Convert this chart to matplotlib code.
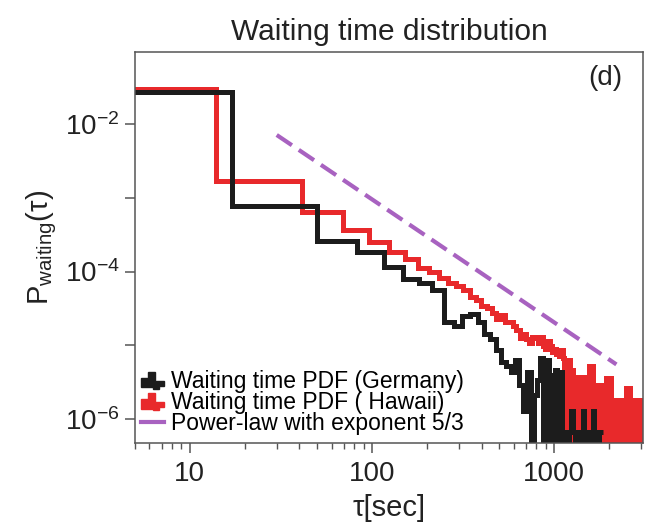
import numpy as np
import matplotlib
matplotlib.use("Agg")
import matplotlib.pyplot as plt
import matplotlib.patches as mpatches
from matplotlib.lines import Line2D
from matplotlib.legend_handler import HandlerPatch
from matplotlib.ticker import LogLocator, FuncFormatter, NullLocator

plt.rcParams['font.family'] = ['Liberation Sans', 'DejaVu Sans']
plt.rcParams['mathtext.fontset'] = 'custom'
plt.rcParams['mathtext.rm'] = 'Liberation Sans'
plt.rcParams['mathtext.it'] = 'Liberation Sans:italic'
plt.rcParams['mathtext.default'] = 'regular'

# histogram bins (linear bins, seconds); first bin is the one left of the plot
red_first_edge, red_start, red_width, red_nbins = 1.0, 14.0, 27.5, 110
black_first_edge, black_start, black_width, black_nbins = 1.0, 17.0, 33.0, 56

# Hawaii PDF, one value per bin (0 = empty bin)
red_values = [3.0e-2, 1.69e-3, 6.4e-4, 3.66e-4, 2.5e-4, 1.84e-4, 1.48e-4, 1.11e-4,
              9.8e-5, 8.1e-5, 7.0e-5, 6.3e-5, 5.6e-5, 4.5e-5, 4.1e-5, 3.4e-5,
              3.2e-5, 2.7e-5, 2.3e-5, 2.6e-5, 2.1e-5, 2.1e-5, 1.8e-5, 1.6e-5,
              1.25e-5, 1.4e-5, 1.2e-5, 1.07e-5, 1.3e-5, 1.25e-5, 1.07e-5, 1.3e-5,
              9.7e-6, 8.9e-6, 1.15e-5, 9.7e-6, 8.1e-6, 9.0e-6, 7.6e-6, 7.2e-6, 8.5e-6,
              6.7e-6, 0, 5.9e-6, 6.3e-6, 0, 4.6e-6, 3.7e-6, 0, 3.7e-6, 0,
              3.4e-6, 3.7e-6, 0, 2.9e-6, 0, 3.7e-6, 5.2e-6, 0, 5.2e-6, 2.9e-6,
              0, 2.6e-6, 0, 2.9e-6, 0, 2.9e-6, 0, 2.5e-6, 2.9e-6, 0,
              3.6e-6, 0, 3.4e-6, 3.6e-6, 0, 1.8e-6, 0, 1.8e-6, 0, 1.8e-6,
              1.8e-6, 0, 1.8e-6, 0, 1.8e-6, 0, 1.8e-6, 0, 1.8e-6, 0,
              2.6e-6, 2.6e-6, 0, 2.6e-6, 1.8e-6, 0, 1.8e-6, 0, 1.8e-6, 1.8e-6,
              0, 1.8e-6, 0, 1.8e-6, 0, 1.8e-6, 1.8e-6, 0, 1.8e-6, 1.8e-6]

# Germany PDF
black_values = [2.7e-2, 7.7e-4, 2.6e-4, 1.84e-4, 1.15e-4, 7.8e-5, 6.9e-5, 5.6e-5,
                2.1e-5, 1.8e-5, 2.5e-5, 2.65e-5, 2.1e-5, 1.4e-5, 1.2e-5, 8.6e-6,
                5.9e-6, 5.2e-6, 4.3e-6, 6.3e-6, 2.9e-6, 1.3e-6, 4.3e-6, 0,
                2.1e-6, 3.4e-6, 6.7e-6, 0, 6.3e-6, 0, 3.9e-6, 4.6e-6, 0, 4.3e-6, 0,
                6.7e-7, 0, 6.7e-7, 1.3e-6, 6.7e-7, 0, 6.7e-7, 6.7e-7, 0, 1.3e-6,
                6.7e-7, 0, 6.7e-7, 6.7e-7, 0, 1.3e-6, 6.7e-7, 6.7e-7, 0, 6.7e-7,
                6.7e-7, 6.7e-7]

# reference power law, exponent 5/3
power_x = [30, 2200]
power_y = [7.1e-3, 5.5e-6]

labels = ["Waiting time PDF (Germany)", "Waiting time PDF ( Hawaii)",
          "Power-law with exponent 5/3"]

red_edges = np.r_[red_first_edge, red_start + red_width * np.arange(red_nbins + 1)]
black_edges = np.r_[black_first_edge, black_start + black_width * np.arange(black_nbins + 1)]

RED = '#e8292b'
BLACK = '#1c1c1c'
PURPLE = '#a862c0'


def stair_patch(legend, orig_handle, xdescent, ydescent, width, height, fontsize):
    fx = np.array([0, 0, .3, .3, .62, .62, 1, 1, .78, .78, .5, .5])
    fy = np.array([0, .6, .6, 1, 1, .4, .4, .1, .1, -.1, -.1, 0])
    xy = np.c_[-xdescent + width * fx, -ydescent + height * fy]
    return mpatches.Polygon(xy, closed=True)


def main():
    fig = plt.figure(figsize=(6.54, 5.22), dpi=100)
    ax = fig.add_axes([135 / 654, 79 / 522, 508 / 654, 391 / 522])

    tiny = 1e-12
    rv = np.where(np.array(red_values) > 0, red_values, tiny)
    bv = np.where(np.array(black_values) > 0, black_values, tiny)
    ax.stairs(rv, red_edges, baseline=None, color=RED, lw=3.6)
    ax.stairs(bv, black_edges, baseline=None, color=BLACK, lw=3.6)
    ax.plot(power_x, power_y, color=PURPLE, lw=3, ls=(0, (4.4, 2.0)))

    ax.set_xscale('log')
    ax.set_yscale('log')
    ax.set_xlim(5, 3080)
    ax.set_ylim(4.73e-7, 0.0947)

    ax.xaxis.set_major_locator(LogLocator(base=10))
    ax.xaxis.set_minor_locator(LogLocator(base=10, subs=np.arange(2, 10)))
    ax.xaxis.set_major_formatter(FuncFormatter(lambda v, p: '%d' % round(v)))
    ax.xaxis.set_minor_formatter(FuncFormatter(lambda v, p: ''))

    def yfmt(v, p):
        e = int(round(np.log10(v)))
        return r'$10^{%d}$' % e if e % 2 == 0 else ''
    ax.yaxis.set_major_locator(LogLocator(base=10, numticks=20))
    ax.yaxis.set_major_formatter(FuncFormatter(yfmt))
    ax.yaxis.set_minor_locator(NullLocator())

    for s in ax.spines.values():
        s.set_color('#555555')
        s.set_linewidth(1.1)
    ax.tick_params(which='major', direction='out', length=7, width=1.1,
                   color='#555555', labelsize=20, labelcolor='#222222', pad=4)
    ax.tick_params(axis='x', which='major', pad=6)
    ax.tick_params(which='minor', direction='out', length=4, width=1.0, color='#555555')

    ax.set_title("Waiting time distribution", fontsize=21.5, pad=9, color='#222222')
    ax.set_xlabel("τ[sec]", fontsize=21, labelpad=5, color='#222222')
    ax.set_ylabel(r"P$_{\mathregular{waiting}}$(τ)", fontsize=21, labelpad=4, color='#222222')
    ax.text(0.925, 0.934, "(d)", transform=ax.transAxes, fontsize=20,
            ha='center', va='center', color='#222222')

    handles = [mpatches.Patch(color=BLACK), mpatches.Patch(color=RED),
               Line2D([], [], color=PURPLE, lw=3)]
    ax.legend(handles, labels, loc='lower left', bbox_to_anchor=(0.012, 0.02),
              frameon=False, fontsize=16.5, handlelength=1.0, handleheight=0.65,
              handletextpad=0.3, labelspacing=-0.08, borderpad=0, borderaxespad=0,
              handler_map={mpatches.Patch: HandlerPatch(patch_func=stair_patch)})

    fig.savefig("out.png", dpi=100)


if __name__ == '__main__':
    main()
